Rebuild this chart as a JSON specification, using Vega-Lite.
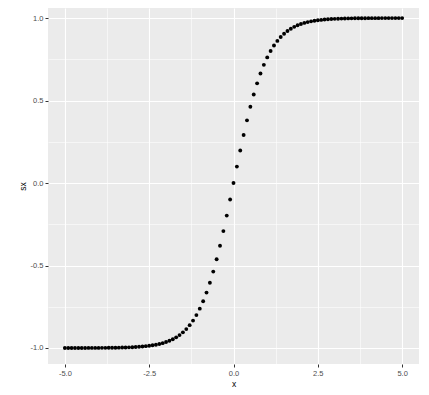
{
  "$schema": "https://vega.github.io/schema/vega-lite/v6.json",
  "width": 371,
  "height": 356,
  "autosize": {"type": "none"},
  "padding": {"left": 48, "top": 8, "right": 10, "bottom": 31},
  "background": "white",
  "config": {
    "view": {"fill": "#EBEBEB", "stroke": null},
    "font": "Liberation Sans"
  },
  "data": {"values": [
    {"x": -5.0, "y": -0.9999}, {"x": -4.9, "y": -0.9999}, {"x": -4.8, "y": -0.9999}, {"x": -4.7, "y": -0.9998}, {"x": -4.6, "y": -0.9998},
    {"x": -4.5, "y": -0.9998}, {"x": -4.4, "y": -0.9997}, {"x": -4.3, "y": -0.9996}, {"x": -4.2, "y": -0.9996}, {"x": -4.1, "y": -0.9995},
    {"x": -4.0, "y": -0.9993}, {"x": -3.9, "y": -0.9992}, {"x": -3.8, "y": -0.9990}, {"x": -3.7, "y": -0.9988}, {"x": -3.6, "y": -0.9985},
    {"x": -3.5, "y": -0.9982}, {"x": -3.4, "y": -0.9978}, {"x": -3.3, "y": -0.9973}, {"x": -3.2, "y": -0.9967}, {"x": -3.1, "y": -0.9959},
    {"x": -3.0, "y": -0.9951}, {"x": -2.9, "y": -0.9940}, {"x": -2.8, "y": -0.9926}, {"x": -2.7, "y": -0.9910}, {"x": -2.6, "y": -0.9890},
    {"x": -2.5, "y": -0.9866}, {"x": -2.4, "y": -0.9837}, {"x": -2.3, "y": -0.9801}, {"x": -2.2, "y": -0.9757}, {"x": -2.1, "y": -0.9705},
    {"x": -2.0, "y": -0.9640}, {"x": -1.9, "y": -0.9562}, {"x": -1.8, "y": -0.9468}, {"x": -1.7, "y": -0.9354}, {"x": -1.6, "y": -0.9217},
    {"x": -1.5, "y": -0.9051}, {"x": -1.4, "y": -0.8854}, {"x": -1.3, "y": -0.8617}, {"x": -1.2, "y": -0.8337}, {"x": -1.1, "y": -0.8005},
    {"x": -1.0, "y": -0.7616}, {"x": -0.9, "y": -0.7163}, {"x": -0.8, "y": -0.6640}, {"x": -0.7, "y": -0.6044}, {"x": -0.6, "y": -0.5370},
    {"x": -0.5, "y": -0.4621}, {"x": -0.4, "y": -0.3799}, {"x": -0.3, "y": -0.2913}, {"x": -0.2, "y": -0.1974}, {"x": -0.1, "y": -0.0997},
    {"x": 0.0, "y": 0.0},
    {"x": 0.1, "y": 0.0997}, {"x": 0.2, "y": 0.1974}, {"x": 0.3, "y": 0.2913}, {"x": 0.4, "y": 0.3799}, {"x": 0.5, "y": 0.4621},
    {"x": 0.6, "y": 0.5370}, {"x": 0.7, "y": 0.6044}, {"x": 0.8, "y": 0.6640}, {"x": 0.9, "y": 0.7163}, {"x": 1.0, "y": 0.7616},
    {"x": 1.1, "y": 0.8005}, {"x": 1.2, "y": 0.8337}, {"x": 1.3, "y": 0.8617}, {"x": 1.4, "y": 0.8854}, {"x": 1.5, "y": 0.9051},
    {"x": 1.6, "y": 0.9217}, {"x": 1.7, "y": 0.9354}, {"x": 1.8, "y": 0.9468}, {"x": 1.9, "y": 0.9562}, {"x": 2.0, "y": 0.9640},
    {"x": 2.1, "y": 0.9705}, {"x": 2.2, "y": 0.9757}, {"x": 2.3, "y": 0.9801}, {"x": 2.4, "y": 0.9837}, {"x": 2.5, "y": 0.9866},
    {"x": 2.6, "y": 0.9890}, {"x": 2.7, "y": 0.9910}, {"x": 2.8, "y": 0.9926}, {"x": 2.9, "y": 0.9940}, {"x": 3.0, "y": 0.9951},
    {"x": 3.1, "y": 0.9959}, {"x": 3.2, "y": 0.9967}, {"x": 3.3, "y": 0.9973}, {"x": 3.4, "y": 0.9978}, {"x": 3.5, "y": 0.9982},
    {"x": 3.6, "y": 0.9985}, {"x": 3.7, "y": 0.9988}, {"x": 3.8, "y": 0.9990}, {"x": 3.9, "y": 0.9992}, {"x": 4.0, "y": 0.9993},
    {"x": 4.1, "y": 0.9995}, {"x": 4.2, "y": 0.9996}, {"x": 4.3, "y": 0.9996}, {"x": 4.4, "y": 0.9997}, {"x": 4.5, "y": 0.9998},
    {"x": 4.6, "y": 0.9998}, {"x": 4.7, "y": 0.9998}, {"x": 4.8, "y": 0.9999}, {"x": 4.9, "y": 0.9999}, {"x": 5.0, "y": 0.9999}
  ]},
  "mark": {"type": "circle", "size": 15, "color": "black", "opacity": 1},
  "encoding": {
    "x": {
      "field": "x", "type": "quantitative",
      "scale": {"domain": [-5.5, 5.5], "nice": false, "zero": false},
      "axis": {
        "title": "x",
        "values": [-5, -3.75, -2.5, -1.25, 0, 1.25, 2.5, 3.75, 5],
        "labelExpr": "abs(datum.value % 2.5) < 0.001 ? replace(format(datum.value, '.1f'), '\u2212', '-') : ''",
        "domain": false,
        "grid": true,
        "gridColor": "white",
        "gridOpacity": 1,
        "gridWidth": {"condition": {"test": "abs(datum.value % 2.5) < 0.001", "value": 1.1}, "value": 0.55},
        "tickOpacity": {"condition": {"test": "abs(datum.value % 2.5) < 0.001", "value": 1}, "value": 0},
        "tickColor": "#333333",
        "tickSize": 3,
        "tickWidth": 1,
        "labelColor": "#4D4D4D",
        "labelFontSize": 7.5,
        "labelPadding": 2,
        "labelFlush": false,
        "titleFontSize": 8.5,
        "titleFontWeight": "normal",
        "titleColor": "black",
        "titlePadding": 3
      }
    },
    "y": {
      "field": "y", "type": "quantitative",
      "scale": {"domain": [-1.097, 1.061], "nice": false, "zero": false},
      "axis": {
        "title": "sx",
        "values": [-1, -0.75, -0.5, -0.25, 0, 0.25, 0.5, 0.75, 1],
        "labelExpr": "abs(datum.value % 0.5) < 0.001 ? replace(format(datum.value, '.1f'), '\u2212', '-') : ''",
        "domain": false,
        "grid": true,
        "gridColor": "white",
        "gridOpacity": 1,
        "gridWidth": {"condition": {"test": "abs(datum.value % 0.5) < 0.001", "value": 1.1}, "value": 0.55},
        "tickOpacity": {"condition": {"test": "abs(datum.value % 0.5) < 0.001", "value": 1}, "value": 0},
        "tickColor": "#333333",
        "tickSize": 3,
        "tickWidth": 1,
        "labelColor": "#4D4D4D",
        "labelFontSize": 7.5,
        "labelPadding": 2,
        "labelFlush": false,
        "titleFontSize": 8.5,
        "titleFontWeight": "normal",
        "titleColor": "black",
        "titlePadding": 3
      }
    }
  }
}
